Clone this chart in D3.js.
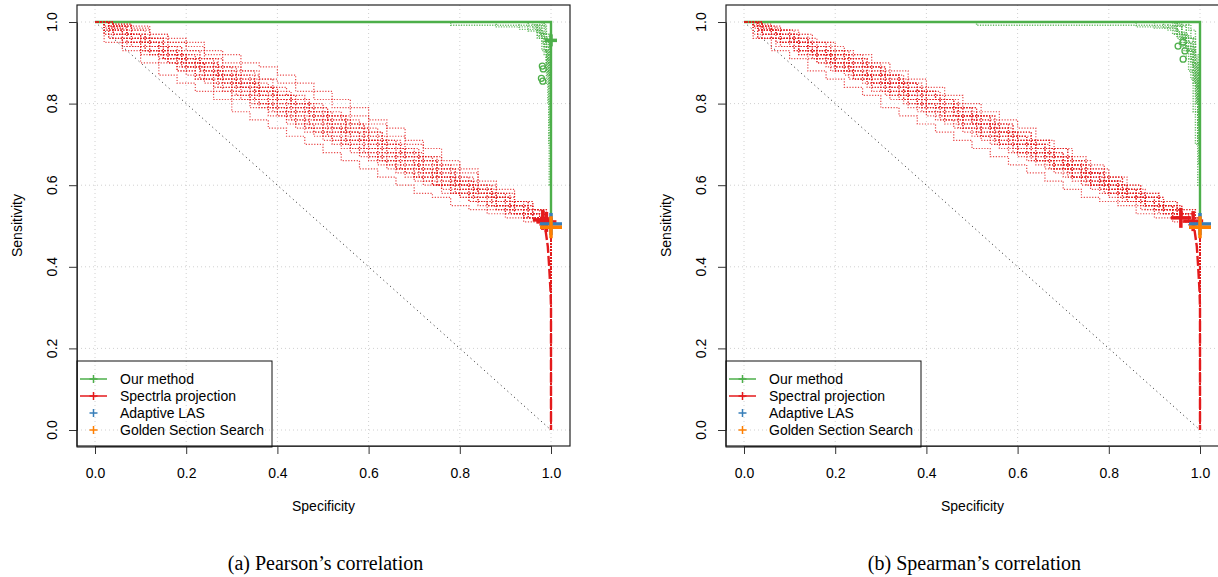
<!DOCTYPE html>
<html>
<head>
<meta charset="utf-8">
<script src="https://cdn.jsdelivr.net/npm/d3@7"></script>
<style>
  body { margin: 0; background: #fff; }
  svg text { font-family: "Liberation Sans", Arial, Helvetica, sans-serif; fill: #000; }
  .caption { font-family: "Liberation Serif", "Times New Roman", serif; }
</style>
</head>
<body>
<svg id="chart" width="1218" height="577"></svg>
<script>
// ---------------- data ----------------
const specTicks = [0, 0.2, 0.4, 0.6, 0.8, 1.0];
const sensTicks = [0, 0.2, 0.4, 0.6, 0.8, 1.0];

const legendLabelsPearson  = ["Our method", "Spectrla projection", "Adaptive LAS", "Golden Section Search"];
const legendLabelsSpearman = ["Our method", "Spectral projection", "Adaptive LAS", "Golden Section Search"];
const captionPearson  = "(a) Pearson\u2019s correlation";
const captionSpearman = "(b) Spearman\u2019s correlation";

// specificity grids on which the spectral-projection ROC runs are sampled
const redGrids = [
  [0, 0.04, 0.08, 0.12, 0.16, 0.20, 0.24, 0.28, 0.32, 0.36, 0.40, 0.44, 0.48, 0.52, 0.56, 0.60, 0.64, 0.68, 0.72, 0.76, 0.80, 0.84, 0.88, 0.92, 0.96, 0.985],
  [0, 0.02, 0.06, 0.10, 0.14, 0.18, 0.22, 0.26, 0.30, 0.34, 0.38, 0.42, 0.46, 0.50, 0.54, 0.58, 0.62, 0.66, 0.70, 0.74, 0.78, 0.82, 0.86, 0.90, 0.94, 0.975],
  [0, 0.03, 0.07, 0.11, 0.15, 0.19, 0.23, 0.27, 0.31, 0.35, 0.39, 0.43, 0.47, 0.51, 0.55, 0.59, 0.63, 0.67, 0.71, 0.75, 0.79, 0.83, 0.87, 0.91, 0.95, 0.99]
];
const redTailSpec = [1.0];
const redTailSens = [0.0];

// spectral projection runs, Pearson
const spectralSensPearson = [
  [1, .995, .99, .97, .96, .95, .93, .92, .90, .89, .87, .85, .83, .81, .79, .76, .74, .71, .69, .66, .64, .61, .59, .56, .54, .52],
  [1, .95, .93, .90, .87, .85, .83, .81, .78, .76, .74, .72, .70, .68, .66, .64, .62, .60, .58, .57, .55, .54, .53, .52, .51, .50],
  [1, .98, .96, .95, .93, .91, .89, .86, .85, .83, .81, .79, .77, .75, .72, .70, .68, .66, .64, .62, .60, .58, .56, .54, .53, .51],
  [1, .99, .97, .94, .92, .90, .87, .85, .84, .82, .79, .77, .76, .73, .71, .69, .67, .65, .63, .61, .59, .57, .55, .53, .52, .51],
  [1, .97, .95, .93, .91, .88, .86, .84, .82, .80, .78, .76, .74, .72, .70, .69, .67, .64, .62, .60, .58, .57, .55, .54, .52, .51],
  [1, .99, .98, .96, .94, .92, .90, .88, .86, .84, .82, .80, .78, .76, .74, .72, .70, .68, .66, .63, .61, .59, .57, .55, .53, .52],
  [1, .96, .94, .92, .90, .89, .87, .85, .83, .80, .78, .75, .73, .71, .69, .67, .65, .63, .61, .59, .57, .56, .54, .53, .52, .50],
  [1, .98, .97, .95, .94, .92, .91, .89, .87, .85, .84, .82, .80, .78, .76, .74, .71, .69, .67, .65, .62, .60, .58, .56, .54, .52],
  [1, .985, .96, .94, .91, .89, .88, .86, .84, .81, .79, .78, .75, .74, .71, .69, .66, .65, .63, .60, .59, .57, .55, .53, .52, .51],
  [1, .97, .96, .94, .92, .90, .88, .87, .85, .83, .81, .79, .77, .76, .74, .71, .69, .67, .65, .63, .60, .58, .56, .55, .53, .52],
  [1, .99, .97, .95, .93, .91, .89, .87, .84, .82, .80, .78, .76, .74, .73, .71, .68, .66, .64, .62, .60, .58, .57, .55, .53, .51],
  [1, .96, .95, .93, .91, .90, .88, .86, .84, .82, .81, .79, .77, .75, .73, .71, .69, .67, .64, .62, .60, .59, .57, .55, .53, .52],
  [1, .995, .985, .97, .95, .94, .92, .90, .88, .86, .85, .83, .81, .79, .77, .75, .72, .70, .67, .65, .63, .60, .58, .56, .54, .52],
  [1, .97, .94, .92, .90, .88, .86, .83, .81, .79, .77, .75, .73, .71, .69, .67, .65, .63, .61, .60, .58, .56, .55, .53, .52, .51],
  [1, .98, .97, .96, .93, .91, .90, .88, .86, .84, .82, .81, .79, .77, .75, .73, .70, .68, .66, .64, .61, .59, .57, .56, .54, .52],
  [1, .99, .96, .95, .92, .90, .89, .87, .85, .83, .80, .78, .76, .74, .72, .70, .68, .66, .63, .61, .59, .58, .56, .54, .52, .51],
  [1, .98, .95, .93, .92, .89, .87, .85, .83, .81, .79, .77, .75, .73, .71, .68, .66, .64, .62, .60, .58, .56, .54, .53, .52, .51],
  [1, .99, .97, .96, .94, .93, .91, .89, .88, .86, .83, .81, .79, .77, .75, .73, .71, .69, .67, .64, .62, .60, .58, .56, .54, .52],
  [1, .97, .95, .92, .90, .87, .85, .83, .81, .79, .77, .74, .72, .70, .68, .66, .64, .62, .60, .58, .57, .55, .54, .53, .52, .50],
  [1, .985, .97, .95, .93, .91, .90, .87, .85, .83, .81, .80, .78, .75, .73, .71, .69, .67, .65, .62, .60, .58, .57, .55, .53, .52],
  [1, .96, .94, .93, .91, .89, .86, .84, .82, .80, .78, .76, .74, .72, .70, .68, .66, .64, .62, .60, .58, .56, .55, .53, .52, .51],
  [1, .99, .98, .96, .95, .93, .91, .89, .87, .84, .82, .80, .78, .77, .75, .72, .70, .68, .66, .64, .61, .59, .57, .55, .53, .52]
];

// spectral projection runs, Spearman
const spectralSensSpearman = [
  [1, .99, .98, .96, .95, .93, .92, .90, .88, .86, .84, .82, .80, .78, .76, .74, .71, .69, .66, .64, .62, .59, .57, .55, .53, .52],
  [1, .96, .93, .91, .88, .86, .84, .82, .79, .77, .75, .73, .71, .69, .67, .65, .63, .61, .59, .57, .56, .55, .53, .52, .51, .50],
  [1, .98, .97, .95, .92, .90, .89, .87, .85, .83, .81, .79, .76, .74, .72, .70, .68, .66, .64, .62, .60, .58, .56, .54, .52, .51],
  [1, .97, .95, .93, .91, .89, .87, .85, .83, .81, .79, .77, .75, .73, .71, .69, .67, .65, .62, .60, .58, .56, .55, .53, .52, .51],
  [1, .995, .98, .97, .95, .94, .92, .90, .87, .85, .83, .81, .79, .77, .75, .72, .70, .68, .66, .63, .61, .59, .57, .55, .53, .52],
  [1, .98, .96, .94, .93, .91, .88, .86, .84, .82, .80, .79, .77, .75, .73, .71, .69, .67, .65, .63, .61, .59, .57, .55, .53, .51],
  [1, .97, .96, .94, .92, .89, .87, .86, .84, .81, .79, .77, .75, .72, .70, .68, .66, .64, .62, .60, .58, .57, .55, .54, .52, .51],
  [1, .99, .97, .96, .94, .92, .90, .89, .87, .85, .83, .81, .78, .76, .74, .72, .70, .68, .65, .63, .61, .59, .57, .55, .53, .52],
  [1, .96, .94, .93, .91, .88, .86, .84, .82, .80, .78, .76, .74, .72, .70, .68, .66, .64, .62, .60, .58, .56, .54, .53, .52, .50],
  [1, .985, .97, .95, .93, .92, .90, .88, .86, .84, .82, .80, .78, .76, .73, .71, .69, .67, .64, .62, .60, .58, .56, .54, .53, .52],
  [1, .99, .96, .95, .93, .90, .88, .87, .85, .83, .80, .78, .77, .75, .72, .70, .68, .66, .64, .61, .59, .57, .56, .54, .52, .51],
  [1, .98, .97, .95, .94, .92, .91, .89, .86, .84, .82, .80, .79, .77, .75, .73, .71, .69, .67, .65, .62, .60, .58, .56, .54, .52],
  [1, .97, .95, .92, .90, .88, .86, .84, .82, .80, .78, .76, .74, .72, .70, .68, .66, .64, .62, .60, .59, .57, .55, .53, .52, .51],
  [1, .99, .98, .96, .94, .93, .91, .89, .87, .85, .83, .81, .79, .77, .74, .72, .70, .67, .65, .63, .61, .58, .56, .55, .53, .52],
  [1, .96, .95, .93, .92, .90, .88, .85, .83, .81, .79, .77, .75, .73, .71, .69, .67, .65, .63, .61, .59, .57, .55, .54, .52, .51],
  [1, .98, .96, .94, .92, .91, .89, .87, .85, .83, .81, .79, .77, .75, .73, .71, .69, .67, .65, .63, .60, .58, .57, .55, .53, .52],
  [1, .97, .96, .94, .91, .89, .87, .85, .83, .81, .78, .76, .74, .72, .70, .68, .66, .64, .62, .60, .58, .56, .55, .53, .52, .51],
  [1, .99, .98, .97, .95, .93, .91, .89, .87, .85, .83, .81, .79, .77, .75, .73, .71, .69, .66, .64, .62, .60, .58, .56, .54, .52],
  [1, .96, .94, .92, .90, .88, .86, .83, .81, .79, .77, .75, .73, .71, .69, .67, .65, .63, .61, .59, .57, .56, .54, .53, .51, .50],
  [1, .985, .96, .95, .93, .91, .89, .87, .85, .82, .80, .79, .77, .75, .73, .70, .68, .66, .64, .62, .60, .58, .56, .54, .53, .52],
  [1, .98, .97, .95, .93, .92, .90, .88, .85, .83, .81, .79, .77, .75, .74, .72, .70, .67, .65, .63, .61, .59, .57, .55, .53, .51],
  [1, .97, .95, .93, .92, .90, .87, .85, .84, .82, .80, .78, .76, .74, .72, .70, .68, .65, .63, .61, .59, .57, .56, .54, .52, .51]
];

// our method runs (breakpoints of each step curve), Pearson
const ourSpecPearson = [
  [0, 0.78, 0.975, 0.99, 0.996, 1],
  [0, 0.88, 0.97, 0.985, 0.995, 1],
  [0, 0.93, 0.98, 0.99, 1],
  [0, 0.95, 0.975, 0.985, 0.993, 1],
  [0, 0.97, 0.985, 0.995, 1],
  [0, 0.965, 0.98, 0.99, 1],
  [0, 0.985, 0.99, 0.997, 1],
  [0, 0.96, 0.975, 0.99, 0.998, 1],
  [0, 0.98, 0.99, 1],
  [0, 0.975, 0.988, 0.996, 1],
  [0, 0.97, 0.98, 0.992, 1],
  [0, 0.985, 0.995, 1]
];
const ourSensPearson = [
  [1, 0.992, 0.97, 0.90, 0.60, 0.5],
  [1, 0.988, 0.96, 0.92, 0.70, 0.5],
  [1, 0.982, 0.95, 0.85, 0.5],
  [1, 0.978, 0.97, 0.93, 0.80, 0.5],
  [1, 0.975, 0.94, 0.88, 0.5],
  [1, 0.99, 0.96, 0.90, 0.5],
  [1, 0.99, 0.95, 0.85, 0.5],
  [1, 0.985, 0.96, 0.88, 0.75, 0.5],
  [1, 0.97, 0.91, 0.5],
  [1, 0.993, 0.97, 0.92, 0.5],
  [1, 0.965, 0.93, 0.87, 0.5],
  [1, 0.96, 0.90, 0.5]
];

// our method runs, Spearman
const ourSpecSpearman = [
  [0, 0.51, 0.97, 0.985, 0.995, 1],
  [0, 0.86, 0.95, 0.97, 0.985, 0.995, 1],
  [0, 0.90, 0.94, 0.96, 0.98, 0.992, 1],
  [0, 0.93, 0.955, 0.975, 0.99, 1],
  [0, 0.95, 0.965, 0.98, 0.993, 1],
  [0, 0.94, 0.96, 0.985, 0.997, 1],
  [0, 0.96, 0.975, 0.99, 1],
  [0, 0.92, 0.95, 0.97, 0.985, 1],
  [0, 0.97, 0.98, 0.99, 0.997, 1],
  [0, 0.955, 0.97, 0.988, 1],
  [0, 0.975, 0.99, 0.996, 1],
  [0, 0.945, 0.965, 0.98, 0.995, 1],
  [0, 0.96, 0.97, 0.985, 0.995, 1],
  [0, 0.95, 0.975, 0.99, 1]
];
const ourSensSpearman = [
  [1, 0.992, 0.96, 0.90, 0.70, 0.5],
  [1, 0.988, 0.97, 0.93, 0.85, 0.70, 0.5],
  [1, 0.985, 0.97, 0.95, 0.90, 0.80, 0.5],
  [1, 0.98, 0.94, 0.88, 0.70, 0.5],
  [1, 0.975, 0.95, 0.92, 0.80, 0.5],
  [1, 0.99, 0.96, 0.87, 0.65, 0.5],
  [1, 0.97, 0.93, 0.82, 0.5],
  [1, 0.985, 0.96, 0.91, 0.78, 0.5],
  [1, 0.993, 0.96, 0.90, 0.75, 0.5],
  [1, 0.99, 0.94, 0.85, 0.5],
  [1, 0.98, 0.92, 0.80, 0.5],
  [1, 0.97, 0.93, 0.86, 0.60, 0.5],
  [1, 0.96, 0.94, 0.89, 0.72, 0.5],
  [1, 0.965, 0.95, 0.84, 0.5]
];

// averaged curves
const ourMeanSpec = [0, 1, 1];
const ourMeanSens = [1, 1, 0.5];
const spectralMeanSpec = [0.988, 0.993, 0.996, 0.999, 1, 1];
const spectralMeanSens = [0.49, 0.45, 0.40, 0.34, 0.30, 0];

// selected operating points
const ourCircleSpecPearson  = [0.981, 0.983, 0.979, 0.982];
const ourCircleSensPearson  = [0.892, 0.885, 0.862, 0.855];
const ourCircleSpecSpearman = [0.952, 0.963, 0.967, 0.963];
const ourCircleSensSpearman = [0.941, 0.951, 0.929, 0.909];
const ourOptSpecPearson  = [1.0];
const ourOptSensPearson  = [0.955];
const ourOptSpecSpearman = [];
const ourOptSensSpearman = [];
const spectralOptSpecPearson  = [0.982, 0.99];
const spectralOptSensPearson  = [0.515, 0.51];
const spectralOptSpecSpearman = [0.958, 0.985];
const spectralOptSensSpearman = [0.52, 0.512];
const lasSpec = [1.0];
const lasSens = [0.505];
const gssSpec = [1.0];
const gssSens = [0.497];

// ---------------- drawing ----------------
const COL = { green: "#4DAF4A", red: "#E41A1C", blue: "#377EB8", orange: "#FF7F00" };
const svg = d3.select("#chart");

const box = { left: 77, right: 570, top: 5, bottom: 446 };
const x = d3.scaleLinear().domain([0, 1]).range([95, 551]);
const y = d3.scaleLinear().domain([0, 1]).range([430, 22]);

const stepLine = d3.line().x(d => x(d[0])).y(d => y(d[1])).curve(d3.curveStepAfter);
const plainLine = d3.line().x(d => x(d[0])).y(d => y(d[1]));

function zip(a, b) { return a.map((v, i) => [v, b[i]]); }

function plus(g, px, py, arm, color, width) {
  g.append("line").attr("x1", px - arm).attr("x2", px + arm).attr("y1", py).attr("y2", py)
    .attr("stroke", color).attr("stroke-width", width);
  g.append("line").attr("x1", px).attr("x2", px).attr("y1", py - arm).attr("y2", py + arm)
    .attr("stroke", color).attr("stroke-width", width);
}

function drawPanel(dx, p) {
  const g = svg.append("g").attr("transform", `translate(${dx},0)`);

  // grid
  const grid = g.append("g").attr("stroke", "#d0d0d0").attr("stroke-width", 1).attr("stroke-dasharray", "1,3");
  specTicks.forEach(t => grid.append("line").attr("x1", x(t)).attr("x2", x(t)).attr("y1", box.top).attr("y2", box.bottom));
  sensTicks.forEach(t => grid.append("line").attr("x1", box.left).attr("x2", box.right).attr("y1", y(t)).attr("y2", y(t)));

  // chance diagonal
  g.append("path").attr("d", plainLine([[0, 1], [1, 0]]))
    .attr("fill", "none").attr("stroke", "#222").attr("stroke-width", 1).attr("stroke-dasharray", "1,3.5");

  // our method runs
  p.ourSpec.forEach((sp, k) => {
    g.append("path").attr("d", stepLine(zip(sp, p.ourSens[k])))
      .attr("fill", "none").attr("stroke", COL.green).attr("stroke-opacity", 0.85)
      .attr("stroke-width", 1.4).attr("stroke-dasharray", "1.2,1.4");
  });
  g.append("path").attr("d", plainLine(zip(ourMeanSpec, ourMeanSens)))
    .attr("fill", "none").attr("stroke", COL.green).attr("stroke-width", 2.4);

  // spectral projection runs
  p.spectralSens.forEach((vals, k) => {
    const grid = redGrids[k % redGrids.length];
    const pts = zip(grid, vals).concat(zip(redTailSpec, redTailSens));
    g.append("path").attr("d", stepLine(pts))
      .attr("fill", "none").attr("stroke", COL.red).attr("stroke-opacity", 0.8)
      .attr("stroke-width", 1.2).attr("stroke-dasharray", "1.2,1.6");
  });
  g.append("path").attr("d", plainLine(zip(spectralMeanSpec, spectralMeanSens)))
    .attr("fill", "none").attr("stroke", COL.red).attr("stroke-width", 2.4).attr("stroke-dasharray", "10,3");

  // operating points
  zip(p.circleSpec, p.circleSens).forEach(d => {
    g.append("circle").attr("cx", x(d[0])).attr("cy", y(d[1])).attr("r", 3)
      .attr("fill", "none").attr("stroke", COL.green).attr("stroke-width", 1.3);
  });
  zip(p.ourOptSpec, p.ourOptSens).forEach(d => plus(g, x(d[0]), y(d[1]), 6, COL.green, 3.5));
  zip(p.spectralOptSpec, p.spectralOptSens).forEach(d => plus(g, x(d[0]), y(d[1]), 10, COL.red, 3.5));
  zip(lasSpec, lasSens).forEach(d => plus(g, x(d[0]), y(d[1]), 11, COL.blue, 3.5));
  zip(gssSpec, gssSens).forEach(d => plus(g, x(d[0]), y(d[1]), 11, COL.orange, 3.5));

  // plot frame
  g.append("rect").attr("x", box.left).attr("y", box.top)
    .attr("width", box.right - box.left).attr("height", box.bottom - box.top)
    .attr("fill", "none").attr("stroke", "#222").attr("stroke-width", 1.2);

  // x axis
  const ax = g.append("g").attr("transform", `translate(0,${box.bottom})`)
    .call(d3.axisBottom(x).tickValues(specTicks).tickFormat(d3.format(".1f"))
      .tickSize(8).tickSizeOuter(0).tickPadding(14));
  ax.select(".domain").attr("stroke", "#333");
  ax.selectAll(".tick line").attr("stroke", "#333");
  ax.selectAll(".tick text").attr("font-size", 14).attr("font-family", null);

  // y axis (labels turned like the axis)
  const ay = g.append("g").attr("transform", `translate(${box.left},0)`)
    .call(d3.axisLeft(y).tickValues(sensTicks).tickFormat("").tickSize(8).tickSizeOuter(0));
  ay.select(".domain").attr("stroke", "#333");
  ay.selectAll(".tick line").attr("stroke", "#333");
  sensTicks.forEach(t => {
    g.append("text").attr("transform", `translate(57,${y(t)}) rotate(-90)`)
      .attr("text-anchor", "middle").attr("font-size", 14).text(d3.format(".1f")(t));
  });

  // axis titles
  g.append("text").attr("x", (box.left + box.right) / 2).attr("y", 511)
    .attr("text-anchor", "middle").attr("font-size", 14).text("Specificity");
  g.append("text").attr("transform", `translate(22,${(box.top + box.bottom) / 2}) rotate(-90)`)
    .attr("text-anchor", "middle").attr("font-size", 14).text("Sensitivity");

  // legend
  const lg = g.append("g");
  lg.append("rect").attr("x", 77).attr("y", 361).attr("width", 195).attr("height", 86)
    .attr("fill", "none").attr("stroke", "#111").attr("stroke-width", 1);
  const legendColors = [COL.green, COL.red, COL.blue, COL.orange];
  const legendHasLine = [true, true, false, false];
  p.legendLabels.forEach((lab, i) => {
    const cy = 379 + i * 17;
    if (legendHasLine[i]) {
      lg.append("line").attr("x1", 80).attr("x2", 107).attr("y1", cy).attr("y2", cy)
        .attr("stroke", legendColors[i]).attr("stroke-width", 1.5);
    }
    plus(lg, 93.5, cy, 4, legendColors[i], 1.5);
    lg.append("text").attr("x", 120).attr("y", cy + 5).attr("font-size", 14).text(lab);
  });

  // caption
  g.append("text").attr("class", "caption").attr("x", (box.left + box.right) / 2 + 2).attr("y", 570)
    .attr("text-anchor", "middle").attr("font-size", 20).text(p.caption);
}

drawPanel(0, {
  spectralSens: spectralSensPearson,
  ourSpec: ourSpecPearson, ourSens: ourSensPearson,
  circleSpec: ourCircleSpecPearson, circleSens: ourCircleSensPearson,
  ourOptSpec: ourOptSpecPearson, ourOptSens: ourOptSensPearson,
  spectralOptSpec: spectralOptSpecPearson, spectralOptSens: spectralOptSensPearson,
  legendLabels: legendLabelsPearson, caption: captionPearson
});
drawPanel(649, {
  spectralSens: spectralSensSpearman,
  ourSpec: ourSpecSpearman, ourSens: ourSensSpearman,
  circleSpec: ourCircleSpecSpearman, circleSens: ourCircleSensSpearman,
  ourOptSpec: ourOptSpecSpearman, ourOptSens: ourOptSensSpearman,
  spectralOptSpec: spectralOptSpecSpearman, spectralOptSens: spectralOptSensSpearman,
  legendLabels: legendLabelsSpearman, caption: captionSpearman
});
</script>
</body>
</html>
